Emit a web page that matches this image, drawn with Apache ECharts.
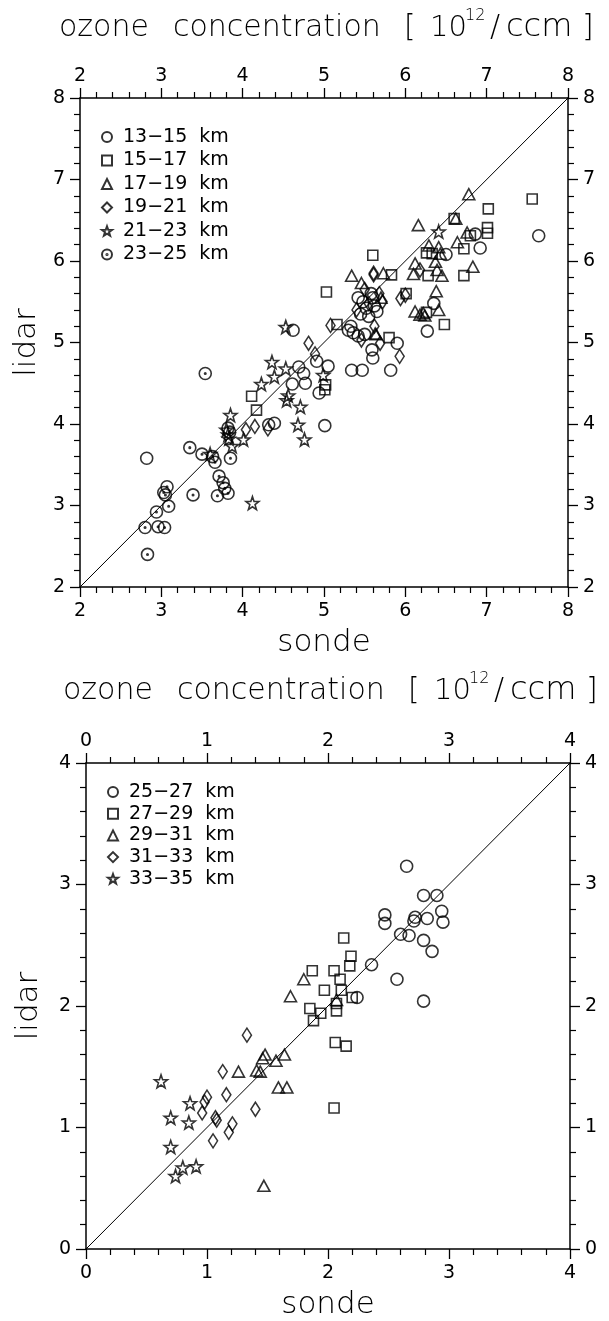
<!DOCTYPE html>
<html>
<head>
<meta charset="utf-8">
<script src="https://cdn.jsdelivr.net/npm/echarts@6/dist/echarts.min.js"></script>
<style>
  html, body { margin: 0; padding: 0; background: #fff; }
  #chart { width: 609px; height: 1321px; }
</style>
</head>
<body>
<div id="chart"></div>
<script>
// upper panel: 13-25 km, values in 10^12/ccm, [sonde, lidar]
const names1 = ['13−15  km', '15−17  km', '17−19  km', '19−21  km', '21−23  km', '23−25  km'];
const s1315 = [[2.82,3.58],[4.32,3.99],[4.39,4.01],[5.01,3.98],[4.69,4.70],[4.61,4.49],[4.77,4.50],
  [4.91,4.77],[5.05,4.71],[4.94,4.38],[5.34,4.66],[5.47,4.66],[5.59,4.91],[5.60,4.81],[4.62,5.15],
  [5.82,4.66],[5.90,4.99],[6.27,5.14],[6.35,5.48],[6.50,6.08],[6.92,6.16],[6.86,6.33],[7.64,6.31],
  [5.42,5.55],[5.48,5.50],[5.52,5.42],[5.58,5.60],[5.62,5.45],[5.45,5.35],[5.55,5.32],[5.30,5.15],
  [5.36,5.12],[5.42,5.08],[5.50,5.10],[5.33,5.20],[5.60,5.55],[5.65,5.38],[4.75,4.62]];
const s1517 = [[5.03,5.62],[5.60,6.07],[4.11,4.34],[4.17,4.17],[5.01,4.42],[5.02,4.48],[5.16,5.22],
  [5.80,5.06],[5.83,5.83],[6.01,5.60],[6.26,5.37],[6.48,5.22],[6.28,5.82],[6.33,6.09],[6.72,6.15],
  [6.72,5.82],[7.02,6.64],[7.01,6.41],[7.01,6.34],[6.80,6.31],[6.60,6.52],[7.56,6.76],[6.26,6.10]];
const s1719 = [[6.78,6.82],[6.62,6.52],[6.16,6.44],[6.64,6.23],[6.76,6.35],[6.29,6.19],[6.41,6.17],
  [6.43,6.09],[6.37,5.99],[6.39,5.89],[6.45,5.82],[6.12,5.97],[6.10,5.84],[6.83,5.93],[6.38,5.63],
  [6.41,5.40],[6.12,5.38],[6.18,5.34],[6.24,5.33],[5.73,5.85],[5.64,5.10],[5.34,5.82],[5.46,5.73],
  [5.63,5.11],[6.22,5.36],[5.70,5.55]];
const s1921 = [[4.04,3.93],[4.15,3.97],[4.31,3.94],[4.81,4.99],[4.89,4.86],[5.08,5.21],[5.61,5.83],
  [5.94,5.54],[6.00,5.58],[5.61,5.85],[5.69,4.99],[5.93,4.83],[5.46,5.03],[5.50,5.65],[5.55,5.48],
  [5.68,5.60],[5.62,5.20],[5.72,5.50],[5.40,5.40],[6.18,5.89]];
const s2123 = [[4.12,3.03],[4.76,3.81],[4.68,3.99],[4.71,4.21],[4.54,4.29],[4.56,4.35],[4.36,4.76],
  [4.39,4.58],[4.23,4.49],[4.53,4.68],[4.53,5.19],[3.85,4.11],[3.80,3.93],[3.83,3.82],[4.01,3.81],
  [3.87,3.73],[3.60,3.63],[6.41,6.36],[3.82,3.87],[4.99,4.60]];
const s2325 = [[2.83,2.40],[2.80,2.73],[2.96,2.74],[3.04,2.73],[2.94,2.92],[3.09,2.99],[3.05,3.13],
  [3.07,3.23],[3.03,3.16],[3.39,3.13],[3.69,3.12],[3.71,3.36],[3.76,3.28],[3.78,3.21],[3.82,3.15],
  [3.35,3.71],[3.50,3.63],[3.63,3.60],[3.66,3.53],[3.85,3.58],[3.54,4.62],[3.82,3.95],[3.84,3.90]];
const diag1 = [[2, 2], [8, 8]];

// lower panel: 25-35 km
const names2 = ['25−27  km', '27−29  km', '29−31  km', '31−33  km', '33−35  km'];
const s2527 = [[2.65,3.15],[2.79,2.91],[2.90,2.91],[2.94,2.78],[2.95,2.69],[2.47,2.75],[2.47,2.68],
  [2.72,2.73],[2.71,2.70],[2.82,2.72],[2.60,2.59],[2.67,2.58],[2.79,2.54],[2.86,2.45],[2.36,2.34],
  [2.57,2.22],[2.79,2.04],[2.24,2.07]];
const s2729 = [[2.13,2.56],[2.19,2.41],[2.18,2.33],[1.87,2.29],[2.05,2.29],[2.10,2.22],[1.97,2.13],
  [2.11,2.13],[1.85,1.98],[1.94,1.94],[1.88,1.88],[2.07,1.96],[2.07,2.02],[2.20,2.07],[2.06,1.70],
  [2.15,1.67],[2.05,1.16]];
const s2931 = [[1.80,2.22],[1.69,2.08],[2.07,2.05],[1.48,1.60],[1.57,1.55],[1.64,1.60],[1.46,1.57],
  [1.26,1.46],[1.41,1.47],[1.44,1.46],[1.59,1.33],[1.66,1.33],[1.47,0.52]];
const s3133 = [[1.33,1.76],[1.13,1.46],[1.16,1.27],[1.00,1.25],[0.98,1.21],[0.96,1.12],[1.07,1.08],
  [1.08,1.06],[1.40,1.15],[1.21,1.03],[1.18,0.96],[1.05,0.89]];
const s3335 = [[0.62,1.38],[0.86,1.20],[0.70,1.08],[0.85,1.04],[0.70,0.84],[0.91,0.68],[0.80,0.67],
  [0.74,0.60]];
const diag2 = [[0, 0], [4, 4]];

const STAR = 'path://M0,-10L2.35,-3.24L9.51,-3.09L3.8,1.24L5.88,8.09L0,4.2L-5.88,8.09L-3.8,1.24L-9.51,-3.09L-2.35,-3.24Z';
const DOTC = 'path://M10,0A10,10 0 1,1 -10,0A10,10 0 1,1 10,0ZM1.2,0A1.2,1.2 0 1,1 -1.2,0A1.2,1.2 0 1,1 1.2,0Z';
const syms = [['circle', 12], ['rect', 10], ['triangle', [12, 11]], ['diamond', [9, 14]], [STAR, 13], [DOTC, 12]];

const FONT = 'DejaVu Sans';
const W = 200; // thin strokes like the plotter lettering
const hollow = { color: 'rgba(0,0,0,0)', borderColor: '#000', borderWidth: 1.6 };

function scatter(name, data, k, grid) {
  return {
    name: name, type: 'scatter', data: data,
    xAxisIndex: grid * 2, yAxisIndex: grid * 2,
    symbol: syms[k][0], symbolSize: syms[k][1],
    itemStyle: hollow, silent: true
  };
}

const tick = { length: 10, lineStyle: { color: '#000', width: 1.3 } };
const minor = { show: true, splitNumber: 5, length: 6, lineStyle: { color: '#000', width: 1.2 } };

function xAx(grid, pos, min, max, withName) {
  return {
    gridIndex: grid, type: 'value', position: pos, min: min, max: max, interval: 1,
    name: withName ? 'sonde' : '', nameLocation: 'middle', nameGap: 40,
    nameTextStyle: { fontFamily: FONT, fontWeight: W, fontSize: 31, color: '#000' },
    axisLine: { onZero: false, lineStyle: { color: '#000', width: 1.5 } },
    axisTick: tick, minorTick: minor,
    axisLabel: { fontFamily: FONT, fontSize: 19, color: '#000', margin: pos === 'top' ? 12 : 15 },
    splitLine: { show: false }
  };
}

function yAx(grid, pos, min, max, withName, gap) {
  return {
    gridIndex: grid, type: 'value', position: pos, min: min, max: max, interval: 1,
    name: withName ? 'lidar' : '', nameLocation: 'middle', nameGap: gap, nameRotate: 90,
    nameTextStyle: { fontFamily: FONT, fontWeight: W, fontSize: 31, color: '#000' },
    axisLine: { onZero: false, lineStyle: { color: '#000', width: 1.5 } },
    axisTick: tick, minorTick: minor,
    axisLabel: { fontFamily: FONT, fontSize: 19, color: '#000', margin: 15 },
    splitLine: { show: false }
  };
}

function title(x0, y) {
  const t = (text, x, size, dy) => ({
    type: 'text', x: x0 + x, y: y + (dy || 0),
    style: { text: text, fontFamily: FONT, fontWeight: W, fontSize: size, fill: '#000', verticalAlign: 'middle' }
  });
  return {
    type: 'group',
    children: [
      t('ozone', 0, 30), t('concentration', 114, 30), t('[', 345, 30),
      t('10', 371, 29), t('12', 406, 16, -12), t('/', 431, 30), t('ccm', 447, 32), t(']', 523, 30)
    ]
  };
}

const legendBase = {
  orient: 'vertical', itemWidth: 10, itemHeight: 10,
  textStyle: { fontFamily: FONT, fontSize: 19, color: '#000', lineHeight: 20, padding: [0, 0, 0, 6] },
  selectedMode: false
};

const chart = echarts.init(document.getElementById('chart'), null, { renderer: 'canvas' });
chart.setOption({
  animation: false,
  backgroundColor: '#fff',
  grid: [
    { left: 80, top: 98, width: 488, height: 489 },
    { left: 86, top: 763, width: 484, height: 489 }
  ],
  xAxis: [xAx(0, 'bottom', 2, 8, true), xAx(0, 'top', 2, 8, false),
          xAx(1, 'bottom', 0, 4, true), xAx(1, 'top', 0, 4, false)],
  yAxis: [yAx(0, 'left', 2, 8, true, 36), yAx(0, 'right', 2, 8, false, 0),
          yAx(1, 'left', 0, 4, true, 42), yAx(1, 'right', 0, 4, false, 0)],
  legend: [
    Object.assign({}, legendBase, { left: 96, top: 122, itemGap: 3.5, data: names1 }),
    Object.assign({}, legendBase, { left: 102, top: 777, itemGap: 1.7, data: names2 })
  ],
  graphic: [title(59, 28), title(63, 691)],
  series: [
    scatter(names1[0], s1315, 0, 0), scatter(names1[1], s1517, 1, 0), scatter(names1[2], s1719, 2, 0),
    scatter(names1[3], s1921, 3, 0), scatter(names1[4], s2123, 4, 0), scatter(names1[5], s2325, 5, 0),
    { type: 'line', data: diag1, xAxisIndex: 0, yAxisIndex: 0, symbol: 'none', silent: true,
      lineStyle: { color: '#000', width: 1 } },
    scatter(names2[0], s2527, 0, 1), scatter(names2[1], s2729, 1, 1), scatter(names2[2], s2931, 2, 1),
    scatter(names2[3], s3133, 3, 1), scatter(names2[4], s3335, 4, 1),
    { type: 'line', data: diag2, xAxisIndex: 2, yAxisIndex: 2, symbol: 'none', silent: true,
      lineStyle: { color: '#000', width: 1 } }
  ]
});
</script>
</body>
</html>
